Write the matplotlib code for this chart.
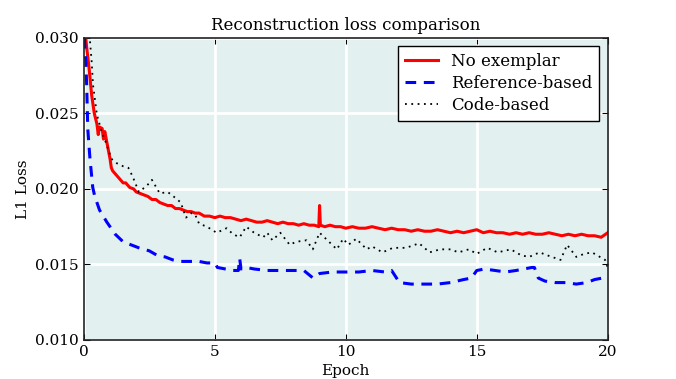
import matplotlib
matplotlib.use('Agg')
import matplotlib.pyplot as plt

# No exemplar (red, solid)
red_x = [0.05, 0.1, 0.2, 0.3, 0.4, 0.5, 0.55, 0.6, 0.7, 0.75, 0.8, 0.9, 1.0, 1.05,
         1.1, 1.25, 1.4, 1.5, 1.6, 1.75, 1.9, 2.0, 2.15, 2.3, 2.45, 2.6, 2.75, 2.9,
         3.05, 3.2, 3.35, 3.5, 3.65, 3.8, 3.95, 4.1, 4.25, 4.4, 4.6, 4.8, 5.0, 5.2,
         5.4, 5.6, 5.8, 6.0, 6.2, 6.4, 6.6, 6.8, 7.0, 7.2, 7.4, 7.6, 7.8, 8.0, 8.2,
         8.4, 8.6, 8.8, 8.97, 9.0, 9.03, 9.2, 9.4, 9.6, 9.8, 10.0, 10.25, 10.5,
         10.75, 11.0, 11.25, 11.5, 11.75, 12.0, 12.25, 12.5, 12.75, 13.0, 13.25,
         13.5, 13.75, 14.0, 14.25, 14.5, 14.75, 15.0, 15.25, 15.5, 15.75, 16.0,
         16.25, 16.5, 16.75, 17.0, 17.25, 17.5, 17.75, 18.0, 18.25, 18.5, 18.75,
         19.0, 19.25, 19.5, 19.75, 20.0]
red_y = [0.0305, 0.0295, 0.0280, 0.0262, 0.0250, 0.0243, 0.0236, 0.0241, 0.0240,
         0.0233, 0.0238, 0.0229, 0.0220, 0.0214,
         0.0212, 0.0209, 0.0206, 0.0204, 0.0204, 0.0201, 0.0200, 0.0198, 0.0197,
         0.0196, 0.0195, 0.0193, 0.0193, 0.0191, 0.0190, 0.0189, 0.0189, 0.0187,
         0.0187, 0.0186, 0.0185, 0.0185, 0.0184, 0.0184, 0.0182, 0.0182, 0.0181,
         0.0182, 0.0181, 0.0181, 0.0180, 0.0179, 0.0180, 0.0179, 0.0178, 0.0178,
         0.0179, 0.0178, 0.0177, 0.0178, 0.0177, 0.0177, 0.0176, 0.0177, 0.0176,
         0.0176, 0.0175, 0.0189, 0.0176, 0.0175, 0.0176, 0.0175, 0.0175, 0.0174,
         0.0175, 0.0174, 0.0174, 0.0175, 0.0174, 0.0173, 0.0174, 0.0173, 0.0173,
         0.0172, 0.0173, 0.0172, 0.0172, 0.0173, 0.0172, 0.0171, 0.0172, 0.0171,
         0.0172, 0.0173, 0.0171, 0.0172, 0.0171, 0.0171, 0.0170, 0.0171, 0.0170,
         0.0171, 0.0170, 0.0170, 0.0171, 0.0170, 0.0169, 0.0170, 0.0169, 0.0170,
         0.0169, 0.0169, 0.0168, 0.0171]

# Reference-based (blue, dashed)
blue_x = [0.02, 0.08, 0.11, 0.15, 0.23, 0.34, 0.42, 0.6, 0.88, 1.2, 1.5, 1.8, 2.1,
          2.5, 2.8, 3.1, 3.4, 3.7, 4.0, 4.4, 4.7, 5.0, 5.1, 5.4, 5.7, 5.9, 5.95,
          6.0, 6.2, 6.5, 7.0, 7.5, 8.0, 8.4, 8.75, 9.0, 9.5, 10.0, 10.5, 11.0,
          11.5, 11.75, 11.9, 12.05, 12.5, 13.0, 13.5, 14.0, 14.5, 14.8, 15.0, 15.3,
          15.7, 16.1, 16.5, 16.8, 17.1, 17.2, 17.35, 17.6, 18.0, 18.4, 18.8, 19.2,
          19.5, 19.8, 20.0]
blue_y = [0.0300, 0.0283, 0.0268, 0.0240, 0.0221, 0.0201, 0.0195, 0.0186, 0.0178,
          0.0170, 0.0165, 0.0163, 0.0161, 0.0159, 0.0156, 0.0155, 0.0153, 0.0152,
          0.0152, 0.0152, 0.0151, 0.0151, 0.0148, 0.0147, 0.0146, 0.0146, 0.0154,
          0.0147, 0.0148, 0.0147, 0.0146, 0.0146, 0.0146, 0.0146, 0.0141, 0.0144,
          0.0145, 0.0145, 0.0145, 0.0146, 0.0145, 0.0146, 0.0142, 0.0138, 0.0137,
          0.0137, 0.0137, 0.0138, 0.0140, 0.0141, 0.0146, 0.0147, 0.0146, 0.0145,
          0.0146, 0.0147, 0.0148, 0.0148, 0.0141, 0.0139, 0.0138, 0.0138, 0.0137,
          0.0138, 0.0140, 0.0141, 0.0140]

# Code-based (black, dotted)
black_x = [0.1, 0.23, 0.3, 0.35, 0.5, 0.68, 0.88, 1.05, 1.26, 1.5, 1.7, 1.87, 2.1,
           2.4, 2.6, 2.9, 3.2, 3.5, 3.7, 3.9, 4.1, 4.25, 4.4, 4.7, 5.07, 5.45, 5.7,
           5.95, 6.2, 6.5, 6.85, 7.0, 7.2, 7.5, 7.86, 8.1, 8.5, 8.74, 9.0, 9.3,
           9.66, 9.9, 10.1, 10.4, 10.8, 11.0, 11.4, 11.8, 12.3, 12.8, 13.2, 13.6,
           14.0, 14.3, 14.7, 15.0, 15.4, 15.8, 16.3, 16.7, 17.0, 17.4, 17.7, 18.2,
           18.45, 18.8, 19.1, 19.4, 19.7, 19.9, 20.0]
black_y = [0.0310, 0.0299, 0.0284, 0.0269, 0.0249, 0.0238, 0.0229, 0.0220, 0.0217,
           0.0215, 0.0214, 0.0208, 0.0198, 0.0202, 0.0206, 0.0197, 0.0198, 0.0194,
           0.0191, 0.0181, 0.0184, 0.0183, 0.0177, 0.0175, 0.0171, 0.0174, 0.0170,
           0.0168, 0.0175, 0.0171, 0.0168, 0.0171, 0.0166, 0.0171, 0.0163, 0.0165,
           0.0166, 0.0160, 0.0171, 0.0166, 0.0160, 0.0167, 0.0163, 0.0167, 0.0160,
           0.0162, 0.0158, 0.0161, 0.0161, 0.0164, 0.0158, 0.0160, 0.0160, 0.0158,
           0.0160, 0.0157, 0.0161, 0.0158, 0.0160, 0.0156, 0.0155, 0.0158, 0.0156,
           0.0153, 0.0163, 0.0155, 0.0157, 0.0158, 0.0155, 0.0153, 0.0148]

x_ticks = [0, 5, 10, 15, 20]
y_ticks = [0.010, 0.015, 0.020, 0.025, 0.030]

plt.rcParams['font.family'] = 'DejaVu Serif'
plt.rcParams['font.size'] = 11

fig = plt.figure(figsize=(6.76, 3.79), dpi=100)
ax = fig.add_axes([0.124, 0.103, 0.775, 0.797])
ax.set_facecolor('#e3f0f0')

ax.plot(red_x, red_y, color='red', lw=2.2, label='No exemplar')
ax.plot(blue_x, blue_y, color='blue', lw=2.2, ls=(0, (3.5, 2.5)), label='Reference-based')
ax.plot(black_x, black_y, color='black', lw=1.3, ls=(0, (1, 2.5)), label='Code-based')

ax.set_xlim(0, 20)
ax.set_ylim(0.010, 0.030)
ax.set_xticks(x_ticks)
ax.set_yticks(y_ticks)
ax.set_yticklabels(['%.3f' % v for v in y_ticks])
ax.grid(True, color='white', lw=2)
ax.set_axisbelow(True)
ax.tick_params(direction='in', top=True, right=True, length=4, labelsize=11)
for s in ax.spines.values():
    s.set_color('#222222')
    s.set_linewidth(1.2)

ax.set_title('Reconstruction loss comparison', fontsize=12)
ax.set_xlabel('Epoch', fontsize=11)
ax.set_ylabel('L1 Loss', fontsize=11)

leg = ax.legend(loc='upper right', fontsize=12, fancybox=False, framealpha=1,
                edgecolor='black', handlelength=2.0, borderpad=0.4, labelspacing=0.3)
leg.get_frame().set_linewidth(1.0)

plt.savefig('out.png', dpi=100)
